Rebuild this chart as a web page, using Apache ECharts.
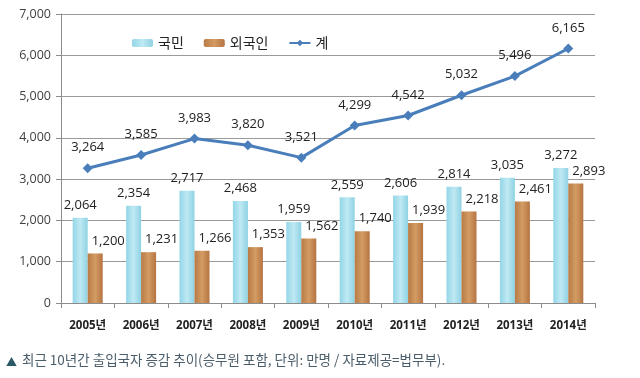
<!DOCTYPE html>
<html><head><meta charset="utf-8">
<script src="https://cdn.jsdelivr.net/npm/echarts@6/dist/echarts.min.js"></script>
<style>html,body{margin:0;padding:0;background:#fff}#c{width:640px;height:378px}</style>
</head><body><div id="c"></div>
<script>
var categories = ['2005년','2006년','2007년','2008년','2009년','2010년','2011년','2012년','2013년','2014년'];
var domestic = [2064,2354,2717,2468,1959,2559,2606,2814,3035,3272];
var foreign = [1200,1231,1266,1353,1562,1740,1939,2218,2461,2893];
var total = [3264,3585,3983,3820,3521,4299,4542,5032,5496,6165];
var yTicks = [0,1000,2000,3000,4000,5000,6000,7000];

var chart = echarts.init(document.getElementById('c'), null, {renderer:'canvas'});
var fmt = function(p){ return echarts.format.addCommas(p.value); };
var numFont = '"Open Sans", "Noto Sans CJK KR", sans-serif';
chart.setOption({
  animation:false,
  textStyle:{fontFamily:numFont},
  grid:{left:61, right:45, top:14, bottom:75},
  legend:{
    left:127, top:31, itemWidth:21, itemHeight:8, itemGap:20,
    textStyle:{fontSize:14, color:'#222', fontFamily:'"Noto Sans CJK KR", sans-serif'},
    data:['국민','외국인','계']
  },
  xAxis:{
    type:'category', data:categories, boundaryGap:true,
    axisLine:{lineStyle:{color:'#8c8c8c'}},
    axisTick:{show:true, length:5, lineStyle:{color:'#8c8c8c'}},
    axisLabel:{fontSize:11.5, color:'#222', fontWeight:'bold', margin:17, fontFamily:numFont}
  },
  yAxis:{
    type:'value', min:yTicks[0], max:yTicks[yTicks.length-1], interval:1000,
    axisLine:{show:true, lineStyle:{color:'#8c8c8c'}},
    axisTick:{show:true, length:5, lineStyle:{color:'#8c8c8c'}},
    splitLine:{lineStyle:{color:'#9a9a9a'}},
    axisLabel:{fontSize:12.5, color:'#404040', margin:10, formatter:function(v){return echarts.format.addCommas(v);}}
  },
  series:[
    {name:'국민', type:'bar', data:domestic, barWidth:15, barGap:'0%',
     itemStyle:{color:new echarts.graphic.LinearGradient(0,0,1,0,[
       {offset:0,color:'#93d6e8'},{offset:0.5,color:'#bfe9f3'},{offset:1,color:'#8fd2e3'}])},
     label:{show:true, position:'top', distance:6, fontSize:13, color:'#222', formatter:fmt}},
    {name:'외국인', type:'bar', data:foreign, barWidth:15,
     itemStyle:{color:new echarts.graphic.LinearGradient(0,0,1,0,[
       {offset:0,color:'#b87a45'},{offset:0.5,color:'#d39c63'},{offset:1,color:'#b57442'}])},
     label:{show:true, position:'top', distance:6, offset:[13,0], fontSize:13, color:'#222', formatter:fmt}},
    {name:'계', type:'line', data:total, symbol:'diamond', symbolSize:10,
     lineStyle:{color:'#4a7ebb', width:3}, itemStyle:{color:'#4a7ebb'},
     label:{show:true, position:'top', distance:9, fontSize:13, color:'#222', formatter:fmt}}
  ],
  graphic:[
    {type:'text', left:6, top:356, style:{text:'▲', fontSize:11, fill:'#2a5866', fontFamily:'"Noto Sans CJK KR", sans-serif'}},
    {type:'text', left:22, top:353, style:{text:'최근 10년간 출입국자 증감 추이(승무원 포함, 단위: 만명 / 자료제공=법무부).', fontSize:13.5, fill:'#4a5d6a', fontFamily:'"Noto Sans CJK KR", sans-serif'}}
  ]
});
</script></body></html>
